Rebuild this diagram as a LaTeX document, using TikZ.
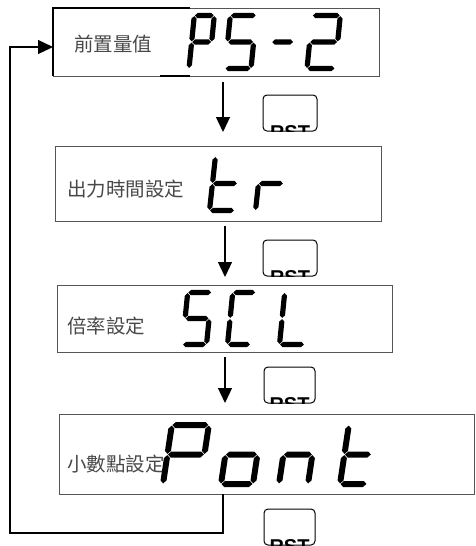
\documentclass[tikz,border=0pt]{standalone}
\usepackage{fontspec}
\setmainfont{Liberation Sans}
\newfontfamily\cjk{Noto Sans CJK TC}
\usetikzlibrary{arrows.meta}

\definecolor{boxgray}{RGB}{85,85,85}
\definecolor{txtgray}{RGB}{72,72,72}

% seven-segment helpers (local coords: y grows downward, baseline at 0, top at -\sgHt)
\def\sgG{0.6}
\newcommand\hseg[3]{\fill ({#1+\sgG},{#3}) -- ({#1+\sgG+\sgH},{#3-\sgH}) -- ({#2-\sgG-\sgH},{#3-\sgH}) -- ({#2-\sgG},{#3}) -- ({#2-\sgG-\sgH},{#3+\sgH}) -- ({#1+\sgG+\sgH},{#3+\sgH}) -- cycle;}
\newcommand\vseg[3]{\fill ({#1},{#2+\sgG}) -- ({#1+\sgH},{#2+\sgG+\sgH}) -- ({#1+\sgH},{#3-\sgG-\sgH}) -- ({#1},{#3-\sgG}) -- ({#1-\sgH},{#3-\sgG-\sgH}) -- ({#1-\sgH},{#2+\sgG+\sgH}) -- cycle;}
\def\SGa{\hseg{0}{\sgW}{-\sgHt}}
\def\SGb{\vseg{\sgW}{-\sgHt}{-0.5*\sgHt}}
\def\SGc{\vseg{\sgW}{-0.5*\sgHt}{0}}
\def\SGd{\hseg{0}{\sgW}{0}}
\def\SGe{\vseg{0}{-0.5*\sgHt}{0}}
\def\SGf{\vseg{0}{-\sgHt}{-0.5*\sgHt}}
\def\SGg{\hseg{0}{\sgW}{-0.5*\sgHt}}
\newcommand\sdig[4]{\begin{scope}[shift={(#1,#2)},xslant=\sgS]\def\sgW{#3}\foreach \q in {#4}{\csname SG\q\endcsname}\end{scope}}

\tikzset{
 panel/.style={draw=boxgray, line width=0.9pt, inner sep=0pt, outer sep=0pt, anchor=north west},
 lbl/.style={font=\cjk\fontsize{19.5}{20}\selectfont, text=txtgray, inner sep=0pt, anchor=west},
 arr/.style={line width=1.3pt, -{Triangle[width=14pt,length=15pt]}},
 loopline/.style={line width=1.3pt, -{Triangle[width=14pt,length=15pt]}},
 rstbox/.style={draw=black, line width=1pt, rounded corners=4pt, minimum height=36pt, inner sep=0pt, outer sep=0pt, anchor=north west},
 rsttxt/.style={font=\bfseries\fontsize{20}{20}\selectfont, inner sep=0pt, anchor=north},
}

\begin{document}
\begin{tikzpicture}[x=1pt,y=-1pt]
\useasboundingbox (0,0) rectangle (475,546);

% panels
\node[panel, minimum width=326pt, minimum height=68pt] (b1) at (53,8) {};
\node[panel, minimum width=326pt, minimum height=75pt] (b2) at (55,146) {};
\node[panel, minimum width=335pt, minimum height=67pt] (b3) at (57,285) {};
\node[panel, minimum width=415pt, minimum height=80pt] (b4) at (59,414) {};
\draw[line width=1.4pt] (b1.south west) -- (b1.north west) -- ([xshift=137pt]b1.north west);
\draw[line width=1.4pt] ([xshift=107pt]b1.south west) -- ([xshift=137pt]b1.south west);

% labels
\node[lbl] (t1) at (74,44) {前置量值};
\node[lbl] (t2) at (67,189.5) {出力時間設定};
\node[lbl] (t3) at (67,326) {倍率設定};
\node[lbl] (t4) at (67,464.5) {小數點設定};

% displays
\begin{scope}
\def\sgHt{53}\def\sgH{2.6}\def\sgS{0.1}
\sdig{189}{68.5}{20}{a,b,g,f,e}
\sdig{225}{68.5}{26}{a,f,g,c,d}
\sdig{269}{68.5}{22}{g}
\sdig{307}{68.5}{28}{a,b,g,e,d}
\end{scope}
\begin{scope}
\def\sgHt{54}\def\sgH{2.6}\def\sgS{0.11}
\sdig{209.5}{210.5}{25}{f,e,g,d}
\sdig{255.5}{210.5}{25}{e,g}
\end{scope}
\begin{scope}
\def\sgHt{52}\def\sgH{2.6}\def\sgS{0.1}
\sdig{182.5}{344.5}{24}{a,f,g,c,d}
\sdig{227.5}{344.5}{23}{a,f,e,d}
\sdig{279.5}{344.5}{25}{f,e,d}
\end{scope}
\begin{scope}
\def\sgHt{59}\def\sgH{3}\def\sgS{0.15}
\sdig{163}{484}{37}{a,b,g,f,e}
\sdig{221}{484}{32}{g,c,d,e}
\sdig{279}{484}{29}{g,c,e}
\sdig{340}{484}{27}{f,e,g,d}
\end{scope}

% arrows
\coordinate (c1) at (223,0);
\coordinate (c2) at (225,0);
\coordinate (c4) at (223,0);
\coordinate (lc) at (10,533);
\coordinate (la) at (0,47);
\draw[arr, shorten <=6pt, shorten >=14pt] (b1.south -| c1) -- (b2.north -| c1);
\draw[arr, shorten <=5pt, shorten >=8pt] (b2.south -| c2) -- (b3.north -| c2);
\draw[arr, shorten <=5pt, shorten >=11pt] (b3.south -| c2) -- (b4.north -| c2);
\draw[loopline] (b4.south -| c4) |- (lc) |- (b1.west |- la);

% RST buttons
\node[rstbox, minimum width=54pt] (r1) at (263,95) {};
\node[rstbox, minimum width=54pt] (r2) at (263,240) {};
\node[rstbox, minimum width=51pt] (r3) at (264,367) {};
\node[rstbox, minimum width=51pt] (r4) at (264,509) {};
\foreach \r in {r1,r2,r3,r4}{
 \begin{scope}
 \clip[rounded corners=4pt] (\r.south west) rectangle (\r.north east);
 \node[rsttxt] at ([yshift=6pt]\r.south) {RST};
 \end{scope}
}
\end{tikzpicture}
\end{document}
